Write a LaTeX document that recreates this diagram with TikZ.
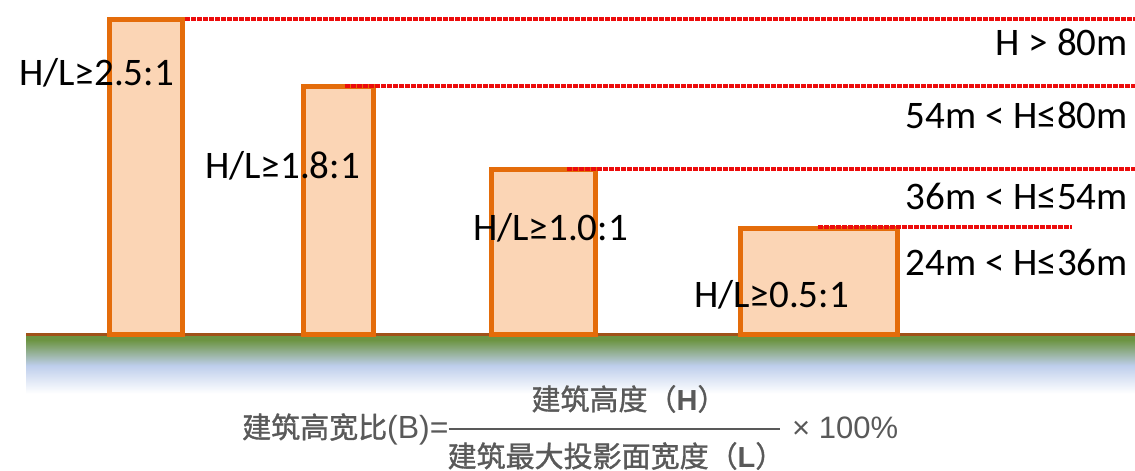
\documentclass[tikz,border=0pt]{standalone}
\usepackage{fontspec}
\setmainfont{Carlito}
\newfontfamily\cjk[FakeBold=1.2]{Noto Sans CJK SC}
\newfontfamily\lat{Liberation Sans}
\definecolor{bldline}{RGB}{228,108,10}
\definecolor{bldfill}{RGB}{251,213,181}
\definecolor{lvlred}{RGB}{236,12,12}
\definecolor{soil}{RGB}{160,82,25}
\definecolor{grass}{RGB}{108,148,66}
\definecolor{sky}{RGB}{190,206,236}
\definecolor{fgray}{RGB}{89,89,89}
\pgfdeclareverticalshading{groundfade}{100bp}{color(0bp)=(white); color(27bp)=(white); color(50bp)=(sky); color(71bp)=(grass); color(100bp)=(grass)}
\tikzset{
	bld/.style={draw=bldline,fill=bldfill,line width=5pt},
	lvl/.style={draw=lvlred,line width=3.2pt,dash pattern=on 5pt off 1pt},
	ratio/.style={font=\fontsize{39}{39}\selectfont,inner sep=0pt,anchor=base west},
	hrange/.style={font=\fontsize{39}{39}\selectfont,inner sep=0pt,anchor=base east},
	formula/.style={font=\cjk\fontsize{29}{29}\selectfont,text=fgray,inner sep=0pt}
}
\begin{document}
\begin{tikzpicture}[x=1pt,y=-1pt]
	\useasboundingbox (0,0) rectangle (1135,471);
	% ground
	\shade[shading=groundfade] (26,335) rectangle (1135,396);
	\draw[soil,line width=3pt] (26,334)--(1135,334);
	% buildings
	\foreach \l/\r/\t in {109.5/182.5/19.5,303.5/373.5/86.5,491.5/595.5/169.5,740.5/897/228}{
		\draw[bld] (\l,334) rectangle (\r,\t);
	}
	% height levels
	\foreach \a/\b/\y in {185/1135/19,345/1135/86,567/1135/169,818/1072/227}{
		\draw[lvl] (\a,\y)--(\b,\y);
	}
	\node[ratio] (r1) at (19,85){H/L≥2.5:1};
	\node[ratio] (r2) at (205,178){H/L≥1.8:1};
	\node[ratio] (r3) at (473,240){H/L≥1.0:1};
	\node[ratio] (r4) at (694,307){H/L≥0.5:1};
	\node[hrange] (h1) at (1128,55){H > 80m};
	\node[hrange] (h2) at (1128,128){54m < H≤80m};
	\node[hrange] (h3) at (1128,209){36m < H≤54m};
	\node[hrange] (h4) at (1128,275){24m < H≤36m};
	% formula
	\node[formula,anchor=base west] (lhs) at (242,438){建筑高宽比{\lat\fontsize{32}{32}\selectfont(B)=}};
	\node[formula,anchor=base] (num) at (629,410){建筑高度（{\lat\bfseries H}）};
	\node[formula,anchor=base] (den) at (616,467){建筑最大投影面宽度（{\lat\bfseries L}）};
	\node[formula,anchor=base west,font=\lat\fontsize{31}{31}\selectfont] (pct) at (792,438){× 100\%};
	\draw[fgray,line width=2pt] (lhs.east |- 0,429)--(780,429);
\end{tikzpicture}
\end{document}
